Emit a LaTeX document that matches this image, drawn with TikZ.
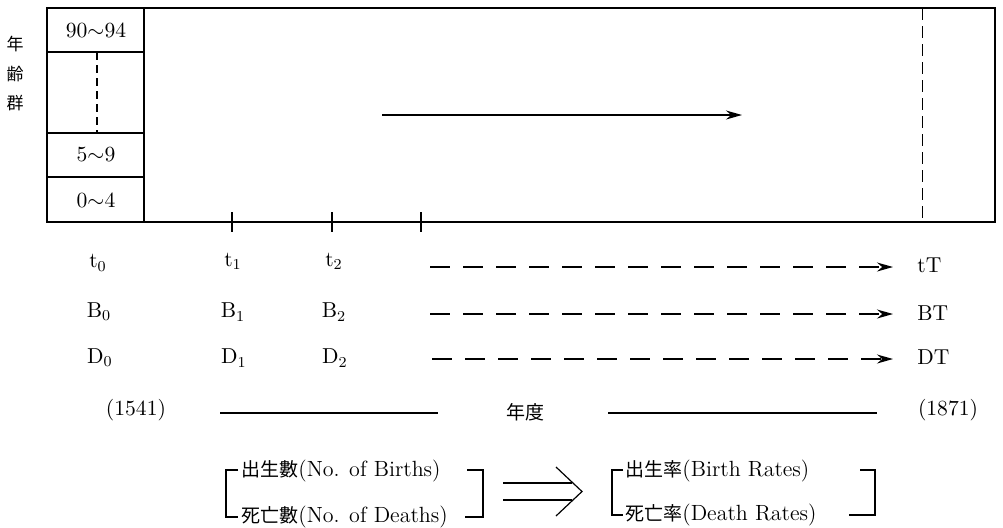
\documentclass[tikz,border=0pt]{standalone}
\usepackage{fontspec}
\newfontfamily\cjk{Noto Sans CJK JP}
\usetikzlibrary{arrows.meta}
\begin{document}
\begin{tikzpicture}[x=0.5pt,y=-0.5pt,
  lbl/.style={inner sep=0pt, font=\fontsize{10.8}{12}\selectfont},
  blbl/.style={inner sep=0pt, font=\fontsize{11}{13}\selectfont},
  cjklbl/.style={inner sep=0pt, font=\cjk\fontsize{8.5}{10}\selectfont},
  frame/.style={line width=0.9pt},
  thinline/.style={line width=0.6pt},
  coldash/.style={line width=0.6pt, dash pattern=on 4pt off 2.5pt},
  bigdash/.style={line width=0.5pt, dash pattern=on 6pt off 3pt},
  dasharrow/.style={line width=0.7pt, dash pattern=on 10pt off 6.5pt, -{Stealth[length=8pt,width=4.5pt]}},
  solidarrow/.style={line width=0.7pt, -{Stealth[length=8pt,width=4.5pt]}}
]
\useasboundingbox (0,0) rectangle (1003,527);
% frame
\draw[frame] (47,8) rectangle (995,222);
\draw[frame] (144,8) -- (144,222);
\draw[thinline] (47,52) -- (144,52) (47,133) -- (144,133) (47,177) -- (144,177);
\draw[coldash] (97,52) -- (97,133);
\draw[bigdash] (922,8) -- (922,222);
% age cells
\node[lbl] (c90) at (96,30) {90$\sim$94};
\node[lbl] (c5) at (96,155) {5$\sim$9};
\node[lbl] (c0) at (96,200) {0$\sim$4};
\node[cjklbl] (k1) at (15,44) {年};
\node[cjklbl] (k2) at (15,74) {齢};
\node[cjklbl] (k3) at (15,103) {群};
% solid arrow
\coordinate (sa) at (382,115);
\coordinate (sb) at (742,115);
\draw[solidarrow] (sa) -- (sb);
% ticks
\foreach \x in {232,332,421} \draw[thinline] (\x,212) -- (\x,232);
% labels
\node[lbl] (t0) at (98,263) {t\textsubscript{0}};
\node[lbl] (t1) at (233,261) {t\textsubscript{1}};
\node[lbl] (t2) at (334,261) {t\textsubscript{2}};
\node[lbl] (b0) at (99,312) {B\textsubscript{0}};
\node[lbl] (b1) at (233,312) {B\textsubscript{1}};
\node[lbl] (b2) at (334,312) {B\textsubscript{2}};
\node[lbl] (d0) at (100,358) {D\textsubscript{0}};
\node[lbl] (d1) at (234,358) {D\textsubscript{1}};
\node[lbl] (d2) at (335,358) {D\textsubscript{2}};
\node[lbl,anchor=west] (tT) at (917,265) {tT};
\node[lbl,anchor=west] (BT) at (917,313) {BT};
\node[lbl,anchor=west] (DT) at (917,357) {DT};
\coordinate (ta) at (430,267); \coordinate (tb) at (893,267);
\coordinate (ba) at (430,314); \coordinate (bb) at (893,314);
\coordinate (da) at (432,359); \coordinate (db) at (893,359);
\draw[dasharrow] (ta) -- (tb);
\draw[dasharrow] (ba) -- (bb);
\draw[dasharrow] (da) -- (db);
% year row
\node[lbl] (y1) at (136,410) {(1541)};
\node[lbl] (y2) at (948,410) {(1871)};
\node[cjklbl,font=\cjk\fontsize{9.5}{11}\selectfont] (nd) at (525,412) {年度};
\coordinate (l1a) at (220,413); \coordinate (l1b) at (438,413);
\coordinate (l2a) at (608,413); \coordinate (l2b) at (877,413);
\draw[thinline] (l1a) -- (l1b);
\draw[thinline] (l2a) -- (l2b);
% bottom brackets
\node[blbl,anchor=west] (nb) at (241,471) {{\cjk\fontsize{9.5}{11}\selectfont 出生數}(No. of Births)};
\node[blbl,anchor=west] (ndth) at (241,517) {{\cjk\fontsize{9.5}{11}\selectfont 死亡數}(No. of Deaths)};
\draw[thinline] (238,470) -- (226,470) -- (226,517) -- (238,517);
\draw[thinline] (467,470) -- (483,470) -- (483,517) -- (465,517);
% double arrow
\coordinate (da1) at (503,483); \coordinate (da2) at (572,483);
\coordinate (db1) at (503,500); \coordinate (db2) at (572,500);
\draw[thinline] (da1) -- (da2) (db1) -- (db2);
\draw[thinline] (556,467) -- (582,491.5) -- (556,516);
% right group
\node[blbl,anchor=west] (rb) at (625,471) {{\cjk\fontsize{9.5}{11}\selectfont 出生率}(Birth Rates)};
\node[blbl,anchor=west] (rd) at (625,515) {{\cjk\fontsize{9.5}{11}\selectfont 死亡率}(Death Rates)};
\draw[thinline] (623,470) -- (612,470) -- (612,515) -- (623,515);
\draw[thinline] (860,470) -- (875,470) -- (875,515) -- (849,515);
\end{tikzpicture}
\end{document}
